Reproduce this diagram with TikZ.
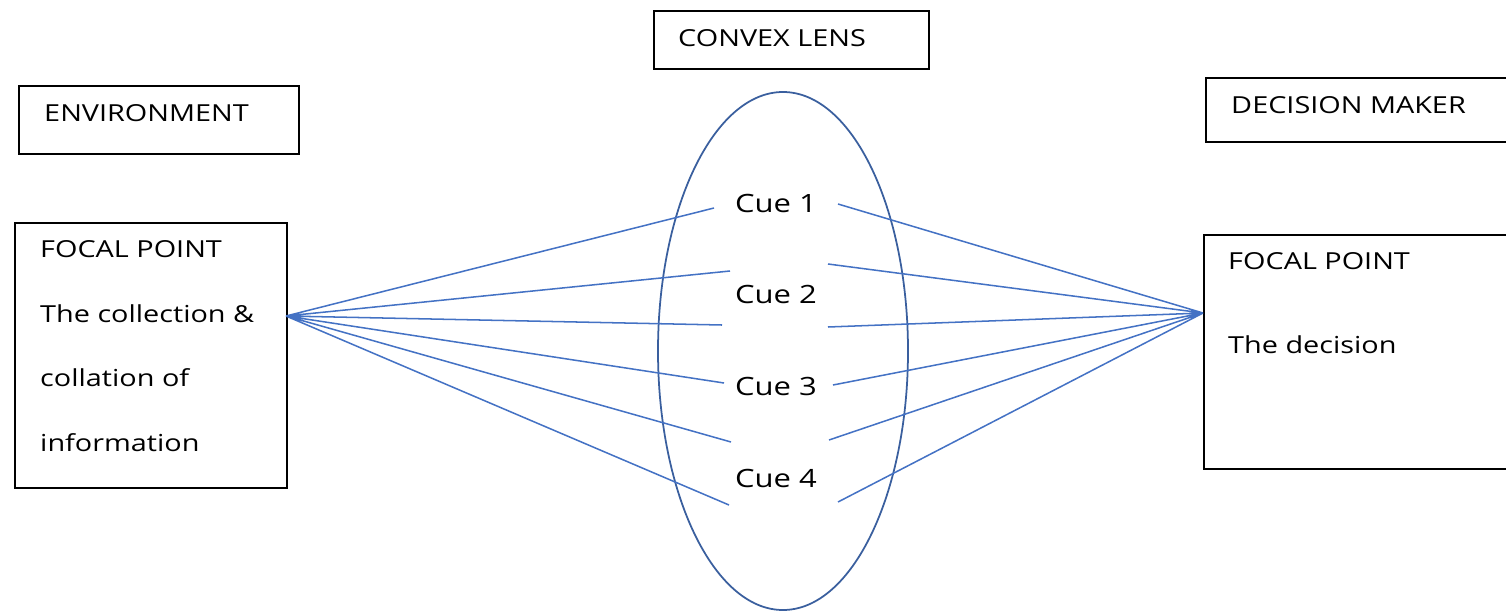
\documentclass[tikz,border=0pt]{standalone}
\usepackage{fontspec}
\setmainfont{Open Sans}[FakeStretch=1.23]
\usetikzlibrary{shapes.geometric}
\definecolor{rayblue}{HTML}{4472C4}
\definecolor{lensblue}{HTML}{3A5F9E}
\newcommand{\pxl}{0.03cm}

\begin{document}
\begin{tikzpicture}[x=\pxl,y=-\pxl,
  box/.style={draw,line width=1.7pt,inner sep=0,anchor=north west},
  lbl/.style={anchor=base west,inner sep=0,font=\fontsize{20}{24}\selectfont},
  cue/.style={anchor=base,inner sep=0,font=\fontsize{21.5}{26}\selectfont},
  ray/.style={rayblue,line width=1.3pt}]
\useasboundingbox (0,0) rectangle (1506,612);
\node[box,minimum width=280*\pxl,minimum height=68*\pxl] (env) at (18,85) {};\node[lbl] (envtxt) at (44,121) {ENVIRONMENT};
\node[box,minimum width=275*\pxl,minimum height=58*\pxl] (lensbox) at (653,10) {};\node[lbl] (lenstxt) at (678,46) {CONVEX LENS};
\node[box,minimum width=307*\pxl,minimum height=64*\pxl] (dm) at (1205,77) {};\node[lbl] (dmtxt) at (1231,113) {DECISION MAKER};
% focal point boxes
\node[box,minimum width=272*\pxl,minimum height=265*\pxl] (fpl) at (14,222) {};
\node[lbl] (fpl1) at (40,257) {FOCAL POINT};\node[lbl] (fpl2) at (40,322) {The collection \&};
\node[lbl] (fpl3) at (40,386) {collation of};\node[lbl] (fpl4) at (40,451) {information};
\node[box,minimum width=309*\pxl,minimum height=234*\pxl] (fpr) at (1203,234) {};
\node[lbl] (fpr1) at (1228,269) {FOCAL POINT};\node[lbl] (fpr2) at (1228,353) {The decision};
% lens and cues
\node[ellipse,draw=lensblue,line width=1.5pt,inner sep=0,minimum width=250*\pxl,minimum height=518*\pxl] (lens) at (783,351) {};
\node[cue] (cue1) at (776,212) {Cue 1};\node[cue] (cue2) at (776,303) {Cue 2};
\node[cue] (cue3) at (776,395) {Cue 3};\node[cue] (cue4) at (776,487) {Cue 4};
% rays
\coordinate (inL) at (286,316);\coordinate (inR) at (1203,313);
\coordinate (a1) at (714,208);\coordinate (a2) at (730,271);\coordinate (a3) at (722,325);
\coordinate (a4) at (724,383);\coordinate (a5) at (731,442);\coordinate (a6) at (729,505);
\coordinate (b1) at (838,204);\coordinate (b2) at (828,264);\coordinate (b3) at (828,327);
\coordinate (b4) at (833,385);\coordinate (b5) at (829,440);\coordinate (b6) at (838,502);
\draw[ray] (inL)--(a1) (inL)--(a2) (inL)--(a3) (inL)--(a4) (inL)--(a5) (inL)--(a6);
\draw[ray] (b1)--(inR) (b2)--(inR) (b3)--(inR) (b4)--(inR) (b5)--(inR) (b6)--(inR);
\end{tikzpicture}
\end{document}
